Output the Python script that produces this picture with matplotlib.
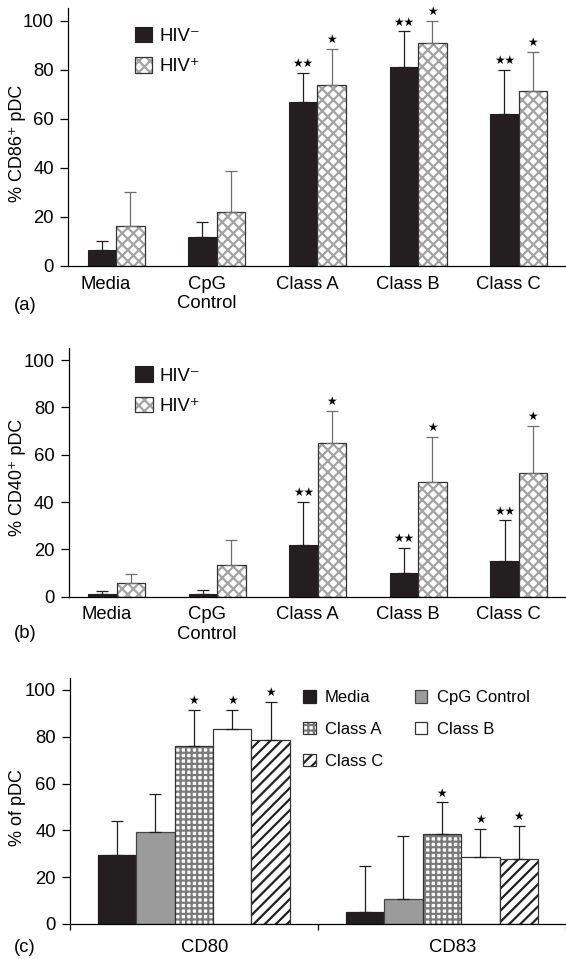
import numpy as np
import matplotlib
matplotlib.use('Agg')
import matplotlib.pyplot as plt
from matplotlib.patches import Patch
from matplotlib.legend_handler import HandlerTuple

plt.rcParams['font.family'] = ['Liberation Sans', 'DejaVu Sans']
plt.rcParams['hatch.linewidth'] = 1.6

# ---- data ----
stimuli = ['Media', 'CpG\nControl', 'Class A', 'Class B', 'Class C']

# (a) % CD86+ pDC
cd86_neg = [6.5, 12, 67, 81, 62]
cd86_neg_err = [3.8, 5.9, 11.8, 14.6, 18]
cd86_pos = [16.2, 22.2, 73.6, 91, 71.5]
cd86_pos_err = [14, 16.5, 15, 9, 15.8]
cd86_neg_sig = ['', '', '**', '**', '**']
cd86_pos_sig = ['', '', '*', '*', '*']

# (b) % CD40+ pDC
cd40_neg = [1.1, 1.1, 21.8, 10.1, 15.2]
cd40_neg_err = [1.1, 1.7, 18.3, 10.6, 17.1]
cd40_pos = [5.6, 13.5, 64.8, 48.6, 52.5]
cd40_pos_err = [4, 10.5, 13.9, 19, 19.6]
cd40_neg_sig = ['', '', '**', '**', '**']
cd40_pos_sig = ['', '', '*', '*', '*']

# (c) % of pDC
markers = ['CD80', 'CD83']
conditions = ['Media', 'CpG Control', 'Class A', 'Class B', 'Class C']
pdc_vals = {
    'Media': [29.5, 5.1],
    'CpG Control': [39.2, 10.8],
    'Class A': [76.2, 38.5],
    'Class B': [83.2, 28.8],
    'Class C': [78.6, 27.6],
}
pdc_err = {
    'Media': [14.7, 19.8],
    'CpG Control': [16.2, 26.9],
    'Class A': [15.3, 13.5],
    'Class B': [8.3, 11.8],
    'Class C': [16.4, 14.3],
}
pdc_sig = {
    'Media': ['', ''],
    'CpG Control': ['', ''],
    'Class A': ['*', '*'],
    'Class B': ['*', '*'],
    'Class C': ['*', '*'],
}

BLACK = '#231f20'
GRAY = '#9b9b9b'
HATCH_GRAY = '#a3a3a3'

W, H = 566, 959
fig = plt.figure(figsize=(W / 100, H / 100), dpi=100)
overlay = {tuple: HandlerTuple(ndivide=1, pad=0)}


def px_axes(left, bottom_px, top_px):
    return fig.add_axes([left / W, 1 - bottom_px / H, 1 - left / W, (bottom_px - top_px) / H])


def style_axes(ax):
    ax.spines['top'].set_visible(False)
    ax.spines['right'].set_visible(False)
    ax.spines['left'].set_linewidth(0.9)
    ax.spines['bottom'].set_linewidth(0.9)
    ax.set_ylim(0, 105)
    ax.set_yticks([0, 20, 40, 60, 80, 100])
    ax.tick_params(axis='y', direction='out', length=5.5, width=0.9, pad=4.5, labelsize=13.3)


def stars(ax, xs, tops, marks):
    for x, t, m in zip(xs, tops, marks):
        if m:
            ax.annotate(m.replace('*', '\u2605'), (x, t), xytext=(0, 2), textcoords='offset points',
                        ha='center', va='bottom', fontsize=8.5, family='DejaVu Sans')


def hiv_panel(ax, neg, neg_err, pos, pos_err, neg_sig, pos_sig, ylabel, ypos, tag, tag_y):
    x = np.arange(len(stimuli))
    w = 0.283
    ax.bar(x - w / 2, neg, w, color=BLACK, edgecolor=BLACK, linewidth=0.8)
    ax.errorbar(x - w / 2, neg, yerr=[np.zeros(len(neg)), neg_err], fmt='none',
                ecolor=BLACK, elinewidth=0.9, capsize=4.5, capthick=0.9)
    ax.bar(x + w / 2, pos, w, color='white', edgecolor=HATCH_GRAY, hatch='xxx', linewidth=0)
    ax.bar(x + w / 2, pos, w, fill=False, edgecolor='#333333', linewidth=0.9)
    ax.errorbar(x + w / 2, pos, yerr=[np.zeros(len(pos)), pos_err], fmt='none',
                ecolor='#6e6e6e', elinewidth=0.9, capsize=4.5, capthick=0.9)
    stars(ax, x - w / 2, np.add(neg, neg_err), neg_sig)
    stars(ax, x + w / 2, np.add(pos, pos_err), pos_sig)
    ax.set_xlim(-0.477, 4.47)
    ax.set_xticks(x - 0.1)
    ax.set_xticklabels(stimuli, fontsize=13.3)
    ax.tick_params(axis='x', length=0, pad=7)
    style_axes(ax)
    h_neg = Patch(facecolor=BLACK, edgecolor=BLACK, linewidth=0.8)
    h_pos = (Patch(facecolor='white', edgecolor=HATCH_GRAY, hatch='xxx', linewidth=0),
             Patch(fill=False, edgecolor='#333333', linewidth=0.9))
    ax.legend([h_neg, h_pos], ['HIV\u207b', 'HIV\u207a'], loc='upper left',
              bbox_to_anchor=(0.115, 0.965), frameon=False, fontsize=13.3,
              handlelength=0.95, handleheight=0.95, handletextpad=0.4, labelspacing=0.65,
              borderpad=0, handler_map=overlay)
    fig.text(18 / W, 1 - ypos / H, ylabel, rotation=90, ha='center', va='center', fontsize=13)
    fig.text(14 / W, 1 - tag_y / H, tag, ha='left', va='center', fontsize=13.3)


ax_a = px_axes(68, 266, 8.3)
hiv_panel(ax_a, cd86_neg, cd86_neg_err, cd86_pos, cd86_pos_err, cd86_neg_sig, cd86_pos_sig,
          '% CD86\u207a pDC', 143, '(a)', 305)

ax_b = px_axes(68.6, 596.7, 348.3)
hiv_panel(ax_b, cd40_neg, cd40_neg_err, cd40_pos, cd40_pos_err, cd40_neg_sig, cd40_pos_sig,
          '% CD40\u207a pDC', 477, '(b)', 634)

# ---- panel c ----
ax_c = px_axes(69.7, 924, 678.3)
styles = {
    'Media': dict(color=BLACK, edgecolor=BLACK),
    'CpG Control': dict(color=GRAY, edgecolor='#444444'),
    'Class A': dict(color='white', edgecolor='#7a7a7a', hatch='+++'),
    'Class B': dict(color='white', edgecolor='#333333'),
    'Class C': dict(color='white', edgecolor='#222222', hatch='///'),
}
xc = np.arange(len(markers))
wc = 0.155
handles = {}
for i, cond in enumerate(conditions):
    xi = xc + (i - 2) * wc
    st = styles[cond]
    if 'hatch' in st:
        ax_c.bar(xi, pdc_vals[cond], wc, color='white', edgecolor=st['edgecolor'],
                 hatch=st['hatch'], linewidth=0)
        ax_c.bar(xi, pdc_vals[cond], wc, fill=False, edgecolor='#333333', linewidth=0.9)
        handles[cond] = (Patch(facecolor='white', edgecolor=st['edgecolor'], hatch=st['hatch'], linewidth=0),
                         Patch(fill=False, edgecolor='#333333', linewidth=0.9))
    else:
        ax_c.bar(xi, pdc_vals[cond], wc, color=st['color'], edgecolor=st['edgecolor'], linewidth=0.9)
        handles[cond] = Patch(facecolor=st['color'], edgecolor=st['edgecolor'], linewidth=0.9)
    ax_c.errorbar(xi, pdc_vals[cond], yerr=[np.zeros(len(markers)), pdc_err[cond]], fmt='none',
                  ecolor=BLACK, elinewidth=0.9, capsize=4.5, capthick=0.9)
    stars(ax_c, xi, np.add(pdc_vals[cond], pdc_err[cond]), pdc_sig[cond])

ax_c.set_xlim(-0.5, 1.5)
ax_c.set_xticks(xc + 0.044)
ax_c.set_xticklabels(markers, fontsize=13.3)
ax_c.tick_params(axis='x', which='major', length=0, pad=11)
ax_c.set_xticks([-0.5, 0.5, 1.5], minor=True)
ax_c.tick_params(axis='x', which='minor', length=4, width=0.9, direction='out')
style_axes(ax_c)

order = ['Media', 'Class A', 'Class C', 'CpG Control', 'Class B']
ax_c.legend([handles[k] for k in order], order, ncol=2, loc='upper left',
            bbox_to_anchor=(0.454, 0.985), frameon=False, fontsize=12,
            handlelength=0.75, handleheight=0.75, handletextpad=0.55, labelspacing=1.0,
            columnspacing=1.9, borderpad=0, handler_map=overlay)
fig.text(18 / W, 1 - 808 / H, '% of pDC', rotation=90, ha='center', va='center', fontsize=13)
fig.text(14 / W, 1 - 947 / H, '(c)', ha='left', va='center', fontsize=13.3)

fig.savefig('out.png', dpi=100)
